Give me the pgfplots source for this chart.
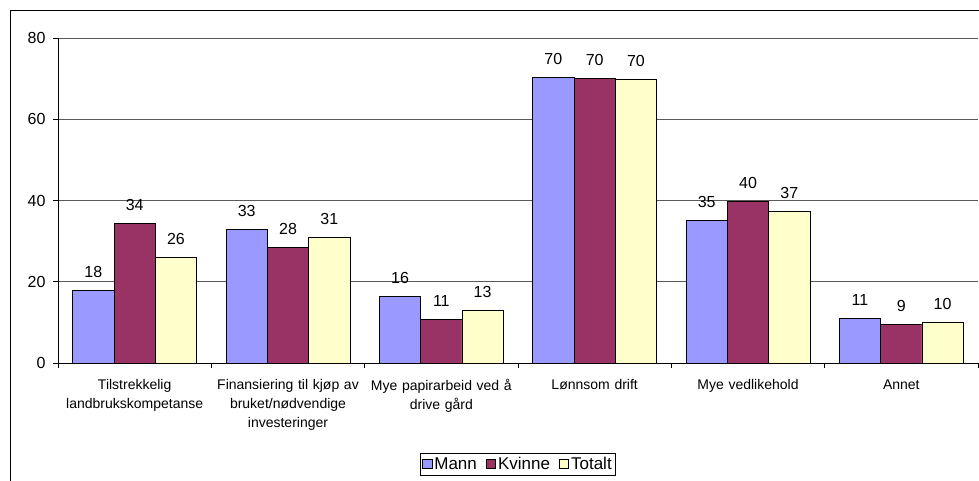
\documentclass[border=0pt]{standalone}
\usepackage{fontspec}
\setmainfont{Liberation Sans}
\usepackage{pgfplots}
\pgfplotsset{compat=1.18}
\usepackage{pgfplotstable}
\definecolor{mann}{HTML}{9999FF}
\definecolor{kvinne}{HTML}{993366}
\definecolor{totalt}{HTML}{FFFFCC}
\pgfplotstableread{
x y
0 17.9
1 32.8
2 16.3
3 70.3
4 35.1
5 11.0
}\mann
\pgfplotstableread{
x y
0 34.4
1 28.4
2 10.8
3 70.1
4 39.7
5 9.4
}\kvinne
\pgfplotstableread{
x y
0 26.0
1 30.9
2 13.0
3 69.9
4 37.2
5 10.0
}\totalt
\pgfplotsset{sq/.style={legend image code/.code={\draw[##1,draw=black,line width=0.6pt] (0pt,-4pt) rectangle (9.5pt,5.5pt);}}}
\begin{document}
\begin{tikzpicture}
\path[use as bounding box] (0pt,0pt) rectangle (979pt,-481pt);
\draw[line width=0.8pt] (10pt,-490pt) -- (10pt,-10pt) -- (990pt,-10pt);
\begin{axis}[
  at={(58pt,-363pt)}, anchor=south west,
  scale only axis, width=920pt, height=325pt,
  ymin=0, ymax=80, ytick={0,20,...,80},
  xmin=-0.5, xmax=5.5,
  ybar=0pt, bar width=41.3pt,
  axis x line*=bottom, axis y line*=left,
  axis line style={-, line width=0.7pt},
  ymajorgrids, grid style={black!65, line width=0.7pt},
  tick align=outside, major tick length=5pt,
  tick style={black, line width=0.6pt},
  xtick={-0.5,0.5,...,5.5},
  x tick label as interval,
  xticklabels={{Tilstrekkelig\\landbrukskompetanse},{Finansiering til kjøp av\\bruket/nødvendige\\investeringer},{Mye papirarbeid ved å\\drive gård},{Lønnsom drift},{Mye vedlikehold},{Annet}},
  x tick label style={font=\fontsize{14}{18.7}\selectfont, align=center, text width=152pt, yshift=-8pt},
  y tick label style={font=\fontsize{16}{18}\selectfont, xshift=-4pt},
  /pgf/number format/assume math mode=true,
  nodes near coords={\pgfmathprintnumber[fixed,precision=0]{\pgfplotspointmeta}},
  every node near coord/.append style={font=\fontsize{16}{18}\selectfont, yshift=9pt},
  legend columns=3,
  legend style={at={(0.5,-0.277)}, anchor=north, draw=black, line width=0.8pt,
    font=\fontsize{17}{19}\selectfont, inner sep=2pt,
    /tikz/every even column/.append style={column sep=7pt}},
  legend cell align=left,
]
\addplot[sq, fill=mann, draw=black, line width=0.8pt] table[x=x,y=y] {\mann};
\addplot[sq, fill=kvinne, draw=black, line width=0.8pt] table[x=x,y=y] {\kvinne};
\addplot[sq, fill=totalt, draw=black, line width=0.8pt] table[x=x,y=y] {\totalt};
\legend{Mann, Kvinne, Totalt}
\end{axis}
\end{tikzpicture}
\end{document}
